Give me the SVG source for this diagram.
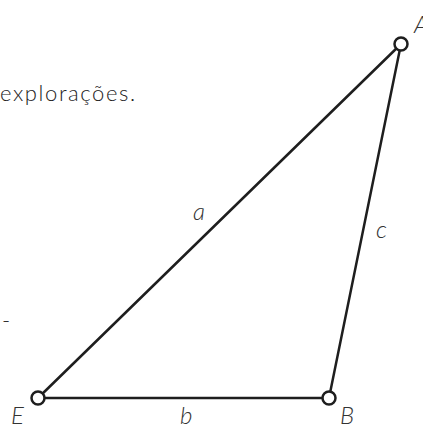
<svg xmlns="http://www.w3.org/2000/svg" width="423" height="427" viewBox="0 0 423 427">
<style>
.edge{stroke:#1e1e1e;stroke-width:2.5;fill:none;stroke-linecap:round}
.node{fill:#fff;stroke:#1e1e1e;stroke-width:2.5}
.lbl{font-family:Lato,"Open Sans",sans-serif;font-style:italic;font-weight:300;font-size:24px;fill:#333}
.body{font-family:Lato,"Open Sans",sans-serif;font-weight:300;font-size:22px;letter-spacing:1.6px;fill:#222}
</style>
<rect width="423" height="427" fill="#fff"/>
<text class="body" x="0" y="101">explorações.</text>
<text class="body" x="2" y="328">-</text>
<g id="connectors">
<line class="edge" x1="401" y1="44" x2="38" y2="398"/>
<line class="edge" x1="401" y1="44" x2="329" y2="398"/>
<line class="edge" x1="38" y1="398" x2="329" y2="398"/>
</g>
<text class="lbl" x="193" y="220">a</text>
<text class="lbl" x="376" y="238">c</text>
<text class="lbl" x="180" y="424">b</text>
<g id="A"><circle class="node" cx="401" cy="44" r="6.5"/><text class="lbl" x="414" y="33">A</text></g>
<g id="E"><circle class="node" cx="38" cy="398" r="6.5"/><text class="lbl" x="11" y="424">E</text></g>
<g id="B"><circle class="node" cx="329" cy="398" r="6.5"/><text class="lbl" x="340" y="424">B</text></g>
</svg>
